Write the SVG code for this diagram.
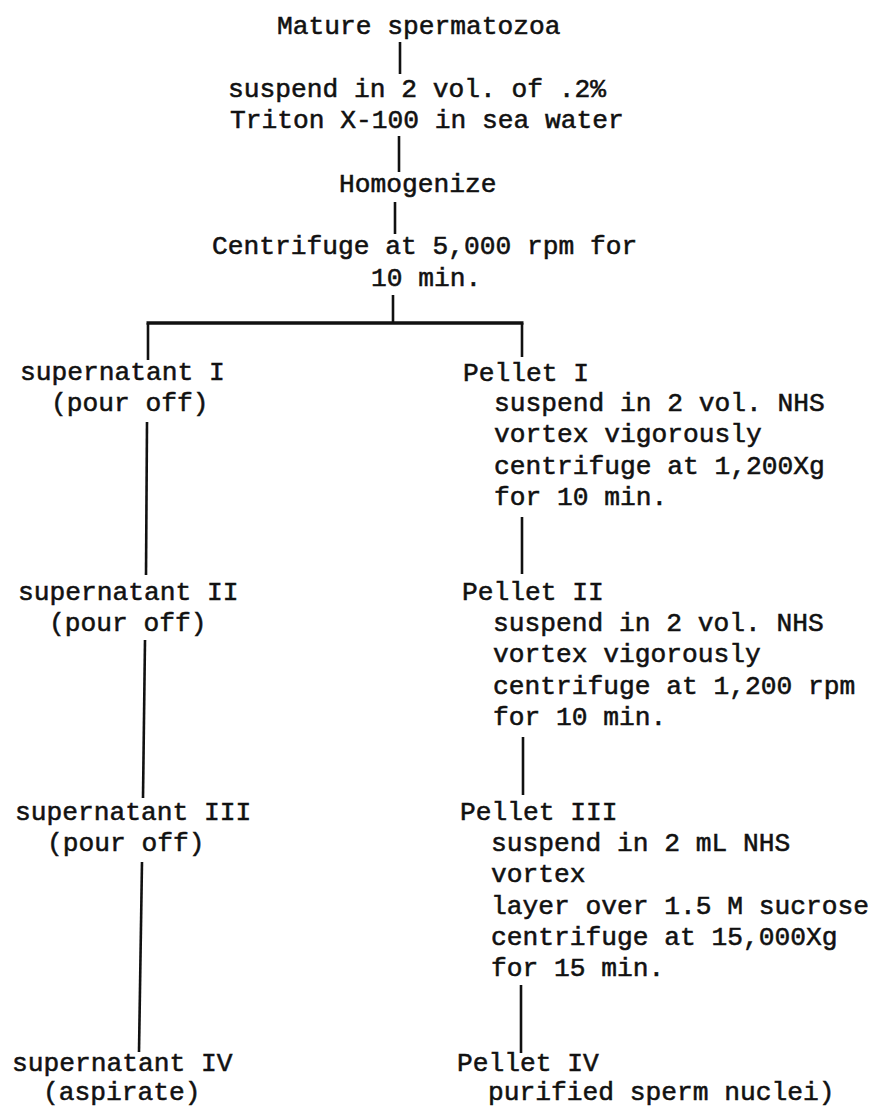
<svg xmlns="http://www.w3.org/2000/svg" width="872" height="1112" viewBox="0 0 872 1112">
<style>
  text { font-family: "Liberation Mono", "DejaVu Sans Mono", monospace; font-size: 26.25px; fill: #111; stroke: #111; stroke-width: 0.55px; white-space: pre; }
  .conn line { stroke: #111; stroke-width: 2.6; stroke-linecap: butt; fill: none; }
  .conn .bar { stroke-width: 3.6; }
</style>
<rect x="0" y="0" width="872" height="1112" fill="#ffffff"/>

<g id="n-mature"><text x="277" y="34">Mature spermatozoa</text></g>
<g id="n-triton">
  <text x="228" y="97">suspend in 2 vol. of .2%</text>
  <text x="230" y="128">Triton X-100 in sea water</text>
</g>
<g id="n-homogenize"><text x="339" y="192">Homogenize</text></g>
<g id="n-centrifuge">
  <text x="212" y="254">Centrifuge at 5,000 rpm for</text>
  <text x="371" y="286">10 min.</text>
</g>

<g id="n-sup1">
  <text x="20" y="380">supernatant I</text>
  <text x="51" y="411">(pour off)</text>
</g>
<g id="n-sup2">
  <text x="18" y="600">supernatant II</text>
  <text x="49" y="631">(pour off)</text>
</g>
<g id="n-sup3">
  <text x="15" y="820">supernatant III</text>
  <text x="47" y="851">(pour off)</text>
</g>
<g id="n-sup4">
  <text x="12" y="1071">supernatant IV</text>
  <text x="43" y="1100">(aspirate)</text>
</g>

<g id="n-pel1">
  <text x="463" y="381">Pellet I</text>
  <text x="494" y="411">suspend in 2 vol. NHS</text>
  <text x="494" y="442">vortex vigorously</text>
  <text x="494" y="474">centrifuge at 1,200Xg</text>
  <text x="494" y="505">for 10 min.</text>
</g>
<g id="n-pel2">
  <text x="462" y="600">Pellet II</text>
  <text x="493" y="631">suspend in 2 vol. NHS</text>
  <text x="493" y="662">vortex vigorously</text>
  <text x="493" y="694">centrifuge at 1,200 rpm</text>
  <text x="493" y="725">for 10 min.</text>
</g>
<g id="n-pel3">
  <text x="460" y="820">Pellet III</text>
  <text x="491" y="851">suspend in 2 mL NHS</text>
  <text x="491" y="882">vortex</text>
  <text x="491" y="914">layer over 1.5 M sucrose</text>
  <text x="491" y="945">centrifuge at 15,000Xg</text>
  <text x="491" y="976">for 15 min.</text>
</g>
<g id="n-pel4">
  <text x="457" y="1071">Pellet IV</text>
  <text x="488" y="1100">purified sperm nuclei)</text>
</g>

<g id="connectors" class="conn">
  <line x1="400" y1="42" x2="400" y2="74"/>
  <line x1="399" y1="136" x2="399" y2="172"/>
  <line x1="395" y1="202" x2="395" y2="234"/>
  <line x1="393" y1="295" x2="393" y2="323"/>
  <line class="bar" x1="146.5" y1="323" x2="523.5" y2="323"/>
  <line x1="148" y1="323" x2="148" y2="360"/>
  <line x1="522" y1="323" x2="522" y2="357"/>
  <line x1="147" y1="422" x2="146" y2="575"/>
  <line x1="145" y1="640" x2="143" y2="798"/>
  <line x1="142" y1="862" x2="139" y2="1052"/>
  <line x1="522" y1="517" x2="522" y2="574"/>
  <line x1="523" y1="737" x2="523" y2="795"/>
  <line x1="521" y1="985" x2="521" y2="1053"/>
</g>
</svg>
